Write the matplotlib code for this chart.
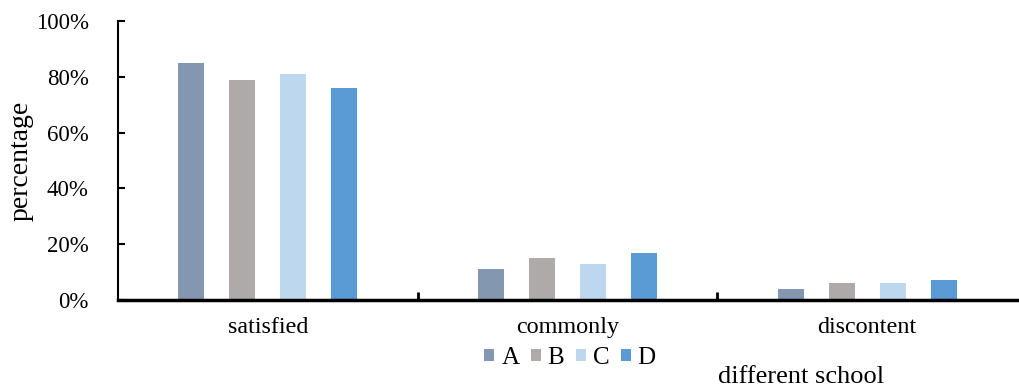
import matplotlib
matplotlib.use('Agg')
import matplotlib.pyplot as plt
import numpy as np
from matplotlib.ticker import PercentFormatter

plt.rcParams['font.family'] = ['Liberation Serif', 'DejaVu Serif']

categories = ['satisfied', 'commonly', 'discontent']
schools = ['A', 'B', 'C', 'D']
school_A = [85, 11, 4]
school_B = [79, 15, 6]
school_C = [81, 13, 6]
school_D = [76, 17, 7]
colors = ['#8497B0', '#AEAAAA', '#BDD7EE', '#5B9BD5']

fig = plt.figure(figsize=(10.19, 3.87), dpi=100)
ax = fig.add_axes([0.1158, 0.2248, 0.8822, 0.7209])

x = np.arange(len(categories))
offsets = [-1.5, -0.5, 0.5, 1.5]
step = 0.17
width = 0.087
for vals, name, c, off in zip([school_A, school_B, school_C, school_D], schools, colors, offsets):
    ax.bar(x + off * step, vals, width, color=c, label=name)

ax.set_xlim(-0.5, 2.5)
ax.set_ylim(0, 100)
ax.yaxis.set_major_formatter(PercentFormatter(decimals=0))
ax.set_yticks([0, 20, 40, 60, 80, 100])
ax.set_xticks(x)
ax.set_xticklabels(categories, fontsize=17.4)
ax.tick_params(axis='x', length=0, pad=12)
ax.set_xticks([0.5, 1.5], minor=True)
ax.tick_params(axis='x', which='minor', direction='in', length=6, width=2)
ax.tick_params(axis='y', direction='in', length=5, width=1.5, labelsize=16.5, pad=21)
ax.spines['top'].set_visible(False)
ax.spines['right'].set_visible(False)
ax.spines['left'].set_linewidth(1.5)
ax.spines['bottom'].set_linewidth(2.5)
ax.set_ylabel('percentage', fontsize=20)
ax.yaxis.set_label_coords(-84 / 899, 0.5)

fig.legend(loc='center', bbox_to_anchor=(570 / 1019, 1 - 358 / 387), ncol=4, frameon=False,
           fontsize=18, handlelength=0.4, handleheight=0.4, handletextpad=0.28, columnspacing=0.45)
fig.text(801 / 1019, 1 - 377 / 387, 'different school', fontsize=19, ha='center', va='center')

fig.savefig('out.png', dpi=100)
